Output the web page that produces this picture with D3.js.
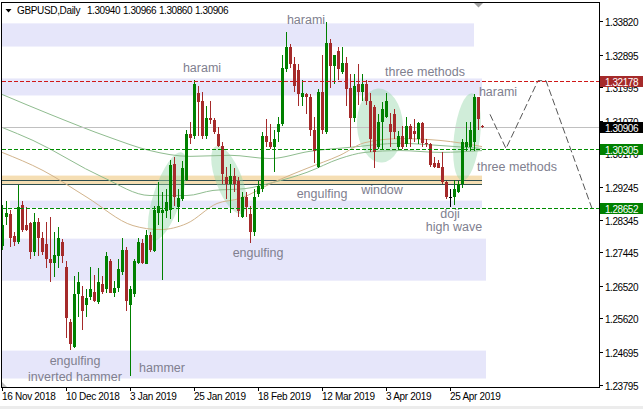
<!DOCTYPE html>
<html><head><meta charset="utf-8">
<script src="https://cdn.jsdelivr.net/npm/d3@7"></script>
<style>html,body{margin:0;padding:0;background:#fff;overflow:hidden}</style>
</head><body><svg id="c" width="643" height="409"></svg>
<script>
// ---------------- DATA ----------------
const symbol = "GBPUSD,Daily";
const quote = [1.30940, 1.30966, 1.30860, 1.30906];

const open = [1.2763,1.2843,1.2851,1.2788,1.2774,1.2876,1.2821,1.2824,1.2744,1.2827,
1.2785,1.2766,1.2725,1.2716,1.2733,1.2774,1.2705,1.2553,1.2484,1.2628,
1.2625,1.2600,1.2622,1.2636,1.2606,1.2658,1.2642,1.2719,1.2633,1.2647,
1.2691,1.2752,1.2600,1.2628,1.2716,1.2771,1.2713,1.2791,1.2747,1.2854,
1.2854,1.2857,1.2862,1.2987,1.2868,1.2890,1.2945,1.3070,1.3064,1.3185,
1.3161,1.3064,1.3116,1.3108,1.3072,1.3039,1.2951,1.2934,1.2954,1.2940,
1.2843,1.2898,1.2849,1.2799,1.2904,1.2918,1.3064,1.3050,1.3036,1.3075,
1.3097,1.3249,1.3310,1.3263,1.3246,1.3174,1.3180,1.3172,1.3083,1.2981,
1.3188,1.3075,1.3323,1.3257,1.3299,1.3243,1.3268,1.3199,1.3116,1.3208,
1.3188,1.3208,1.3161,1.3144,1.3036,1.3103,1.3119,1.3097,1.3125,1.3034,
1.3064,1.3042,1.3092,1.3078,1.3056,1.3100,1.3047,1.3042,1.2992,1.2992,
1.2981,1.2937,1.2896,1.2898,1.2912,1.2932,1.3034,1.3036,1.3050,1.3174,
1.30940];
const high = [1.2876,1.2885,1.2862,1.2799,1.2929,1.2885,1.2868,1.2827,1.2854,1.2840,
1.2799,1.2827,1.2843,1.2799,1.2813,1.2780,1.2719,1.2559,1.2678,1.2689,
1.2650,1.2642,1.2705,1.2683,1.2702,1.2678,1.2744,1.2725,1.2664,1.2725,
1.2785,1.2760,1.2650,1.2725,1.2785,1.2780,1.2807,1.2799,1.2871,1.2937,
1.2912,1.2918,1.3000,1.3006,1.2918,1.2995,1.3083,1.3103,1.3221,1.3202,
1.3188,1.3147,1.3161,1.3116,1.3089,1.3050,1.2981,1.2987,1.2978,1.2951,
1.2912,1.2912,1.2871,1.2918,1.2940,1.3075,1.3111,1.3097,1.3083,1.3119,
1.3290,1.3351,1.3318,1.3282,1.3263,1.3221,1.3185,1.3180,1.3119,1.3194,
1.3290,1.3381,1.3332,1.3290,1.3312,1.3312,1.3282,1.3235,1.3235,1.3263,
1.3235,1.3221,1.3185,1.3152,1.3125,1.3158,1.3185,1.3130,1.3139,1.3078,
1.3092,1.3119,1.3097,1.3111,1.3105,1.3103,1.3056,1.3047,1.3006,1.2998,
1.3020,1.2940,1.2918,1.2945,1.2940,1.3056,1.3103,1.3105,1.3180,1.3174,
1.30966];
const low = [1.2752,1.2821,1.2760,1.2763,1.2766,1.2799,1.2802,1.2727,1.2733,1.2733,
1.2738,1.2702,1.2661,1.2675,1.2702,1.2716,1.2509,1.2476,1.2479,1.2567,
1.2531,1.2567,1.2614,1.2606,1.2603,1.2628,1.2633,1.2631,1.2620,1.2636,
1.2683,1.2581,1.2402,1.2622,1.2711,1.2711,1.2711,1.2744,1.2744,1.2821,
1.2669,1.2840,1.2835,1.2871,1.2829,1.2885,1.2940,1.3042,1.3056,1.3064,
1.3056,1.3056,1.3097,1.3072,1.3034,1.2932,1.2890,1.2854,1.2912,1.2843,
1.2838,1.2843,1.2771,1.2788,1.2898,1.2912,1.3034,1.3028,1.2967,1.3050,
1.3092,1.3243,1.3254,1.3188,1.3147,1.3147,1.3125,1.3064,1.2992,1.2978,
1.3070,1.3070,1.3199,1.3208,1.3221,1.3235,1.3147,1.3034,1.3105,1.3152,
1.3161,1.3152,1.3020,1.2978,1.3028,1.3028,1.3116,1.3034,1.3056,1.3028,
1.3028,1.3036,1.3036,1.3050,1.3042,1.3036,1.3036,1.2981,1.2978,1.2978,
1.2932,1.2890,1.2868,1.2876,1.2909,1.2923,1.3023,1.3023,1.3023,1.3083,
1.30860];
const close = [1.2821,1.2854,1.2785,1.2774,1.2868,1.2805,1.2807,1.2744,1.2827,1.2785,
1.2744,1.2725,1.2716,1.2736,1.2785,1.2733,1.2562,1.2490,1.2628,1.2661,
1.2581,1.2617,1.2642,1.2609,1.2661,1.2636,1.2733,1.2633,1.2647,1.2697,
1.2752,1.2609,1.2642,1.2719,1.2774,1.2716,1.2791,1.2752,1.2862,1.2871,
1.2862,1.2882,1.2984,1.2896,1.2893,1.2978,1.3070,1.3061,1.3208,1.3158,
1.3064,1.3116,1.3108,1.3075,1.3039,1.2959,1.2932,1.2954,1.2932,1.2857,
1.2898,1.2868,1.2799,1.2898,1.2926,1.3064,1.3050,1.3036,1.3056,1.3097,
1.3254,1.3310,1.3263,1.3202,1.3180,1.3183,1.3172,1.3083,1.3023,1.3188,
1.3083,1.3323,1.3257,1.3290,1.3249,1.3268,1.3194,1.3116,1.3202,1.3188,
1.3208,1.3161,1.3056,1.3020,1.3103,1.3139,1.3161,1.3075,1.3075,1.3064,
1.3034,1.3092,1.3056,1.3070,1.3100,1.3047,1.3042,1.2984,1.2981,1.2978,
1.2937,1.2896,1.2896,1.2918,1.2932,1.3050,1.3050,1.3083,1.3174,1.3111,
1.30906];

const dateTickBars = [0, 16, 32, 48, 64, 80, 96, 112];
const dateTickLabels = ["16 Nov 2018","10 Dec 2018","3 Jan 2019","25 Jan 2019","18 Feb 2019","12 Mar 2019","3 Apr 2019","25 Apr 2019"];
const priceTicks = [1.33820,1.32895,1.31995,1.31070,1.30170,1.29245,1.28345,1.27445,1.26520,1.25620,1.24695,1.23795];

const bidPrice = 1.30906;
const resistanceLevel = 1.32178;
const supportLevels = [1.30305, 1.28652];

// lavender zones: start bar, end bar, top price, bottom price
const zoneStart = [0, 0, 2, 0, 0];
const zoneEnd   = [118, 120, 120, 121, 121];
const zoneTop   = [1.3376, 1.3224, 1.2887, 1.2782, 1.2473];
const zoneBot   = [1.3312, 1.3177, 1.2867, 1.2666, 1.2396];

// wheat band + its two lines
const bandStart = 0, bandEnd = 120;
const bandTop = 1.2956, bandBot = 1.2932;
const bandLines = [1.2944, 1.2933];

// ellipses (diameter endpoints: bar, price)
const ellA_bar = [37.75, 53.5, 94, 117.5];
const ellA_price = [1.2777, 1.3037, 1.3196, 1.3183];
const ellB_bar = [45, 60, 95, 115];
const ellB_price = [1.3020, 1.2851, 1.2992, 1.2942];

// moving averages (knots)
const maSlowBar = [0,12,27,37,47,57,67,77,87,99.5,109.5,120];
const maSlowVal = [1.3180,1.3125,1.3061,1.3025,1.3009,1.3012,1.3003,1.3023,1.3034,1.3045,1.3039,1.3031];
const maFastBar = [0,7.75,25.25,37,46.25,52.75,60.75,67.75,76.25,84.5,90.75,99.5,109.5,120];
const maFastVal = [1.3089,1.3053,1.2951,1.2901,1.2901,1.2915,1.2920,1.2937,1.2965,1.3003,1.3020,1.3025,1.3020,1.3025];
const maTanBar = [0,10.25,21.25,32.75,39.5,46.25,53.75,59.5,67.75,76.25,84.5,90.75,99.5,109.5,120];
const maTanVal = [1.3020,1.2970,1.2896,1.2818,1.2807,1.2824,1.2879,1.2893,1.2937,1.2976,1.3012,1.3047,1.3058,1.3053,1.3036];

// projected path
const projBar = [122, 126, 134, 136, 147.5];
const projVal = [1.3125, 1.30305, 1.32178, 1.32178, 1.28652];

// pattern labels
const annText  = ["harami","harami","three methods","harami","three methods","window","engulfing","engulfing","doji","high wave","engulfing","inverted hammer","hammer"];
const annBar   = [50, 76, 105.75, 124, 128.75, 95, 80, 64, 112, 113, 18.25, 18.25, 40];
const annPrice = [1.3252, 1.3384, 1.3241, 1.3188, 1.2981, 1.2915, 1.2906, 1.2741, 1.2849, 1.2813, 1.2445, 1.2401, 1.2426];

// ---------------- DRAW ----------------
const svg = d3.select("#c");
const FONT = "'Liberation Sans', Arial, sans-serif";
const x = d3.scaleLinear().domain([0, 120]).range([2, 482]);
const y = d3.scaleLinear().domain([1.23795, 1.33820]).range([384.5, 21.2]);
const L = 2, R = 599.5, T = 2.5, B = 387.5;

svg.append("rect").attr("width",643).attr("height",409).attr("fill","#fff");
svg.append("rect").attr("x",0).attr("y",406).attr("width",643).attr("height",3).attr("fill","#ececec");

const plot = svg.append("g");
// zones
zoneTop.forEach((t,k)=>{
  plot.append("rect").attr("x", x(zoneStart[k])).attr("width", x(zoneEnd[k]) - x(zoneStart[k]))
    .attr("y", y(t)).attr("height", y(zoneBot[k]) - y(t)).attr("fill","#e6e6fa");
});
// wheat band
plot.append("rect").attr("x", x(bandStart)).attr("width", x(bandEnd)-x(bandStart))
  .attr("y", y(bandTop)).attr("height", y(bandBot)-y(bandTop)).attr("fill","#f5deb3");
bandLines.forEach(p=>{
  plot.append("line").attr("x1", x(bandStart)).attr("x2", x(bandEnd))
    .attr("y1", Math.round(y(p))+0.5).attr("y2", Math.round(y(p))+0.5)
    .attr("stroke","#2f4f4f").attr("stroke-width",1);
});
// ellipses
const ellMinor = [28, 26, 46, 26];
ellA_bar.forEach((b,k)=>{
  const x1 = x(b), y1 = y(ellA_price[k]), x2 = x(ellB_bar[k]), y2 = y(ellB_price[k]);
  const cx = (x1+x2)/2, cy = (y1+y2)/2;
  const len = Math.hypot(x2-x1, y2-y1);
  const ang = Math.atan2(y2-y1, x2-x1) * 180 / Math.PI;
  plot.append("ellipse").attr("cx",0).attr("cy",0).attr("rx",len/2).attr("ry",ellMinor[k]/2)
    .attr("transform",`translate(${cx},${cy}) rotate(${ang})`)
    .attr("fill","rgb(150,215,170)").attr("fill-opacity",0.45);
});
// MA lines
const line = d3.line().x(d=>x(d[0])).y(d=>y(d[1])).curve(d3.curveMonotoneX);
[[maSlowBar,maSlowVal,"#8fbc8f"],[maFastBar,maFastVal,"#8fbc8f"],[maTanBar,maTanVal,"#d2b48c"]].forEach(([bs,vs,col])=>{
  plot.append("path").attr("d", line(bs.map((b,k)=>[b,vs[k]]))).attr("fill","none").attr("stroke",col).attr("stroke-width",1);
});
// gray bid line
plot.append("line").attr("x1",L).attr("x2",R)
  .attr("y1",Math.round(y(bidPrice))+0.5).attr("y2",Math.round(y(bidPrice))+0.5)
  .attr("stroke","#c0c0c0").attr("stroke-width",1);
// projection
plot.append("path").attr("d", d3.line().x(d=>x(d[0])).y(d=>y(d[1]))(projBar.map((b,k)=>[b,projVal[k]])))
  .attr("fill","none").attr("stroke","#555").attr("stroke-width",1).attr("stroke-dasharray","7,3");

// candles
const cg = plot.append("g").attr("shape-rendering","crispEdges");
open.forEach((o,i)=>{
  const c = close[i];
  const col = o === c ? "#000" : (c > o ? "#008000" : "#a52a2a");
  const xc = Math.round(x(i));
  cg.append("line").attr("x1",xc+0.5).attr("x2",xc+0.5).attr("y1",y(high[i])).attr("y2",y(low[i])).attr("stroke",col);
  const top = y(Math.max(o,c)), bot = y(Math.min(o,c));
  if (o === c) {
    cg.append("line").attr("x1",xc-1).attr("x2",xc+2).attr("y1",Math.round(top)+0.5).attr("y2",Math.round(top)+0.5).attr("stroke",col);
  } else {
    cg.append("rect").attr("x",xc-1).attr("width",3).attr("y",top).attr("height",Math.max(1,bot-top)).attr("fill",col);
  }
});

// dashed level lines, drawn as small dash rectangles so their colour stays solid
const dashLevel = (p, col) => {
  const py = Math.round(y(p));
  const g = plot.append("g").attr("shape-rendering","crispEdges");
  for (let dx = L; dx < R; dx += 6) {
    g.append("rect").attr("x", dx).attr("y", py).attr("width", Math.min(4, R - dx)).attr("height", 1).attr("fill", col);
  }
};
dashLevel(resistanceLevel, "#d01818");
supportLevels.forEach(p=>dashLevel(p, "#008c00"));

// pattern labels
annText.forEach((t,k)=>{
  svg.append("text").attr("x",x(annBar[k])).attr("y",y(annPrice[k]))
    .attr("text-anchor","middle").attr("dominant-baseline","central")
    .attr("font-family",FONT).attr("font-size","12.5px").attr("fill","#80808f").text(t);
});

// frame
svg.append("rect").attr("x",1.5).attr("y",T).attr("width",R-1.5).attr("height",B-T)
  .attr("fill","none").attr("stroke","#000").attr("shape-rendering","crispEdges");
// chart shift markers
svg.append("path").attr("d","M474,3 L483,3 L478.5,7.5 Z").attr("fill","#a0a0a0");
svg.append("path").attr("d","M2,382 L2,387 L7,387 Z").attr("fill","#c0c0c0");

// header
svg.append("path").attr("d","M5.5,9 L11.5,9 L8.5,12.5 Z").attr("fill","#000");
svg.append("text").attr("x",17).attr("y",14).attr("font-family",FONT).attr("font-size","10px")
  .attr("letter-spacing","-0.35px").attr("fill","#000").text(symbol);
quote.forEach((q,k)=>{
  svg.append("text").attr("x",87 + k*36).attr("y",14).attr("font-family",FONT).attr("font-size","10px")
    .attr("letter-spacing","-0.45px").attr("fill","#000").text(q.toFixed(5));
});

// price axis (labels partly hidden behind a level box are clipped, as in the reference)
const ax = svg.append("g");
const boxPrices = [resistanceLevel, bidPrice].concat(supportLevels);
priceTicks.forEach(p=>{
  const py = Math.round(y(p))+0.5;
  ax.append("line").attr("x1",599).attr("x2",603).attr("y1",py).attr("y2",py).attr("stroke","#000");
  const near = boxPrices.find(b => Math.abs(y(b) - y(p)) < 11);
  const t = ax.append("text").attr("x",605).attr("y",py+1).attr("dominant-baseline","central")
    .attr("font-family",FONT).attr("font-size","10px").attr("letter-spacing","-0.45px").attr("fill","#000").text(p.toFixed(5));
  if (near !== undefined) {
    const by = Math.round(y(near));
    const id = "clip" + p.toFixed(5).replace(".","");
    const cp = svg.append("clipPath").attr("id", id);
    if (y(p) < y(near)) cp.append("rect").attr("x",600).attr("y",0).attr("width",43).attr("height",by-5);
    else cp.append("rect").attr("x",600).attr("y",by+6).attr("width",43).attr("height",409);
    t.attr("clip-path",`url(#${id})`);
  }
});
const box = (p, bg) => {
  const py = y(p);
  ax.append("rect").attr("x",600).attr("y",Math.round(py)-5).attr("width",43).attr("height",11).attr("fill",bg);
  ax.append("text").attr("x",605).attr("y",Math.round(py)+1).attr("dominant-baseline","central")
    .attr("font-family",FONT).attr("font-size","10px").attr("letter-spacing","-0.45px").attr("fill","#fff").text(p.toFixed(5));
};
box(resistanceLevel, "#a52a2a");
box(bidPrice, "#000");
supportLevels.forEach(p=>box(p, "#008000"));

// time axis
dateTickBars.forEach((b,k)=>{
  const tx = Math.round(x(b))+0.5;
  ax.append("line").attr("x1",tx).attr("x2",tx).attr("y1",387).attr("y2",391).attr("stroke","#000");
  ax.append("text").attr("x",tx-0.5).attr("y",400).attr("font-family",FONT).attr("font-size","10px")
    .attr("letter-spacing","-0.3px").attr("fill","#000").text(dateTickLabels[k]);
});
</script></body></html>
